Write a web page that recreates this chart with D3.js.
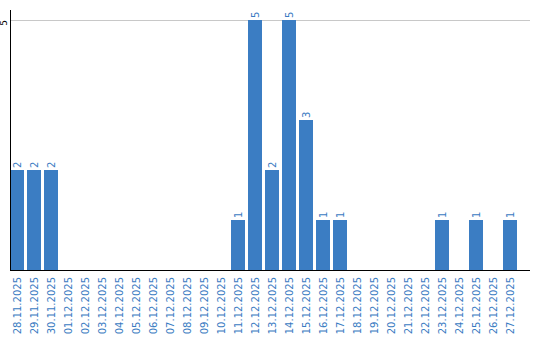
<!DOCTYPE html>
<html>
<head>
  <style>
    body { margin: 0; background: #fff; }
    text { font-family: "DejaVu Sans", Verdana, sans-serif; }
  </style>
</head>
<body>
  <svg id="chart" width="540" height="340"></svg>
  <script src="https://d3js.org/d3.v7.min.js"></script>
  <script>
    const dates = ["28.11.2025", "29.11.2025", "30.11.2025", "01.12.2025", "02.12.2025",
      "03.12.2025", "04.12.2025", "05.12.2025", "06.12.2025", "07.12.2025",
      "08.12.2025", "09.12.2025", "10.12.2025", "11.12.2025", "12.12.2025",
      "13.12.2025", "14.12.2025", "15.12.2025", "16.12.2025", "17.12.2025",
      "18.12.2025", "19.12.2025", "20.12.2025", "21.12.2025", "22.12.2025",
      "23.12.2025", "24.12.2025", "25.12.2025", "26.12.2025", "27.12.2025"];
    const counts = [2, 2, 2, 0, 0, 0, 0, 0, 0, 0, 0, 0, 0, 1, 5, 2, 5, 3, 1, 1,
      0, 0, 0, 0, 0, 1, 0, 1, 0, 1];
    const yTicks = [5];

    const barColor = "#3b7dc3";
    const textColor = "#3a7bc2";

    const svg = d3.select("#chart");

    // x band scale, bars 14px wide, step 17px
    const x = d3.scaleBand()
      .domain(dates)
      .range([10, 517])
      .paddingInner(3 / 17)
      .paddingOuter(0);

    const y = d3.scaleLinear()
      .domain([0, 5])
      .range([270, 20]);

    const rows = dates.map((d, i) => ({date: d, value: counts[i]})).filter(d => d.value > 0);

    // gridline
    svg.selectAll("line.grid")
      .data(yTicks)
      .enter()
      .append("line")
      .attr("class", "grid")
      .attr("x1", 11)
      .attr("x2", 530)
      .attr("y1", d => y(d) + 0.5)
      .attr("y2", d => y(d) + 0.5)
      .attr("stroke", "#c8c8c8")
      .attr("stroke-width", 1);

    // bars
    svg.selectAll("rect.bar")
      .data(rows)
      .enter()
      .append("rect")
      .attr("class", "bar")
      .attr("x", d => x(d.date))
      .attr("y", d => y(d.value))
      .attr("width", x.bandwidth())
      .attr("height", d => y(0) - y(d.value))
      .attr("fill", barColor);

    // value labels
    svg.selectAll("text.val")
      .data(rows)
      .enter()
      .append("text")
      .attr("class", "val")
      .attr("transform", d => `translate(${x(d.date) + x.bandwidth() / 2},${y(d.value) - 2}) rotate(-90)`)
      .attr("dy", "0.35em")
      .attr("text-anchor", "start")
      .attr("font-size", 10)
      .attr("fill", textColor)
      .text(d => d.value);

    // y axis
    svg.append("line")
      .attr("x1", 10.5).attr("x2", 10.5)
      .attr("y1", 10).attr("y2", 270)
      .attr("stroke", "#000");

    svg.selectAll("text.ytick")
      .data(yTicks)
      .enter()
      .append("text")
      .attr("class", "ytick")
      .attr("transform", d => `translate(4,${y(d) + 3}) rotate(-90)`)
      .attr("dy", "0.35em")
      .attr("text-anchor", "middle")
      .attr("font-size", 9)
      .attr("fill", "#000")
      .text(d => d);

    // x axis
    svg.append("line")
      .attr("x1", 10).attr("x2", 530)
      .attr("y1", 270.5).attr("y2", 270.5)
      .attr("stroke", "#000");

    svg.selectAll("text.xtick")
      .data(dates)
      .enter()
      .append("text")
      .attr("class", "xtick")
      .attr("transform", d => `translate(${x(d) + x.bandwidth() / 2},277) rotate(-90)`)
      .attr("dy", "0.35em")
      .attr("text-anchor", "end")
      .attr("font-size", 10)
      .attr("fill", textColor)
      .text(d => d);
  </script>
</body>
</html>
